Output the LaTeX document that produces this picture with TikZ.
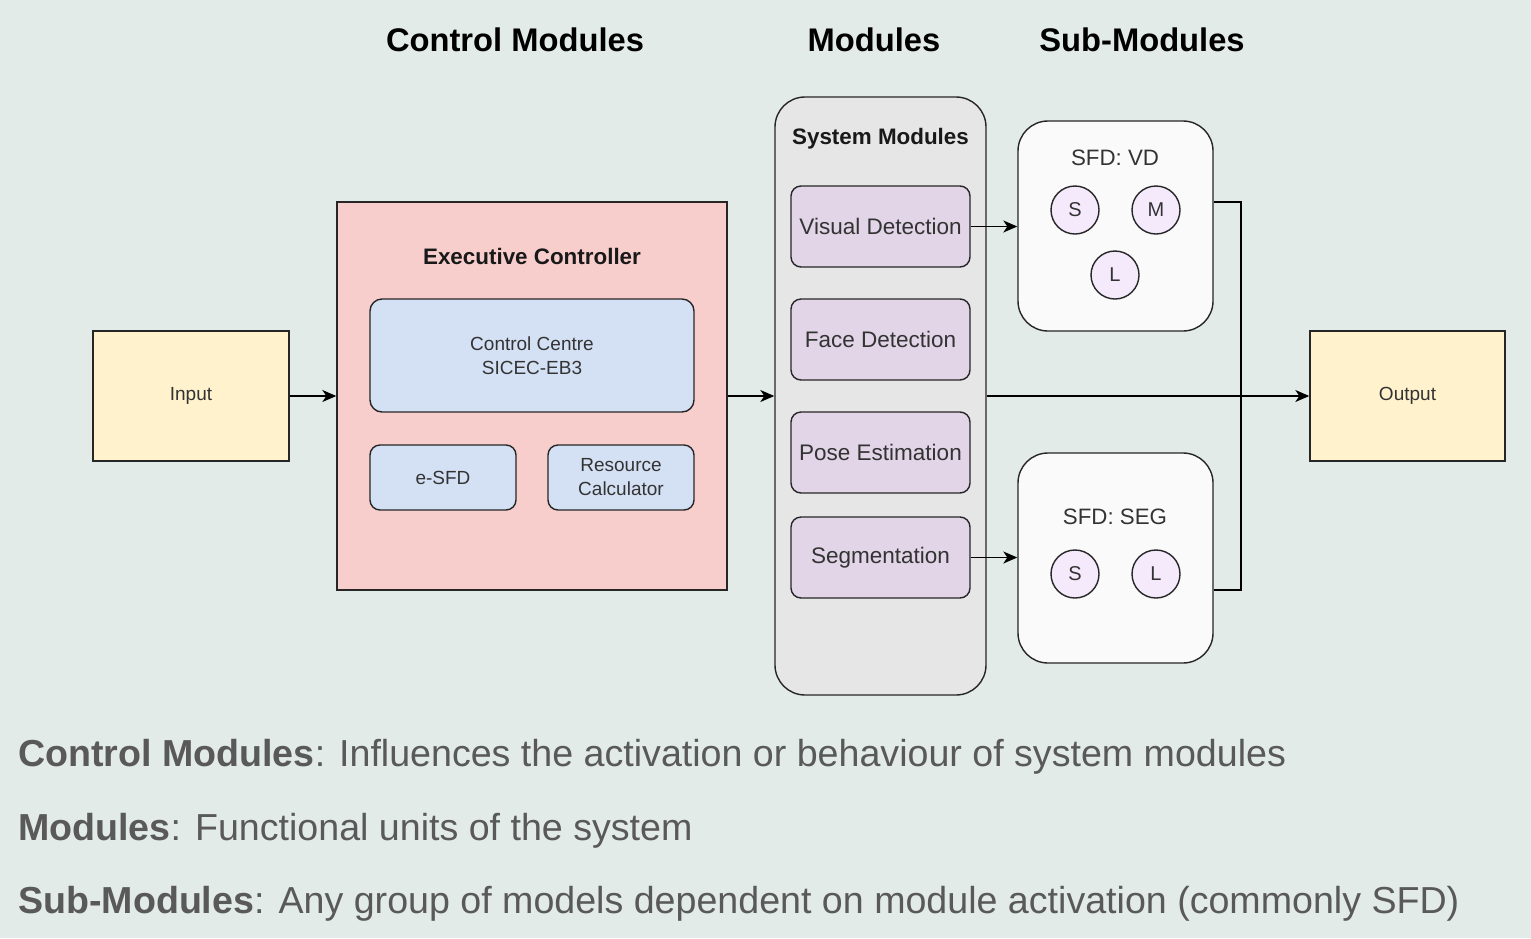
\documentclass[tikz,border=0pt]{standalone}
\usepackage{fontspec}
\setmainfont{Liberation Sans}
\usetikzlibrary{arrows.meta}
\definecolor{bg}{HTML}{E2EBE8}
\definecolor{inyel}{HTML}{FFF2CC}
\definecolor{expink}{HTML}{F8CECC}
\definecolor{ltblue}{HTML}{D4E1F5}
\definecolor{sysgray}{HTML}{E6E6E6}
\definecolor{modpur}{HTML}{E1D5E7}
\definecolor{sfdwhite}{HTML}{FAFAFA}
\definecolor{circpur}{HTML}{F5EAFC}
\definecolor{txtgray}{HTML}{333333}
\definecolor{legendgray}{HTML}{595959}
\definecolor{edge}{HTML}{262626}
\tikzset{
  box/.style={draw=edge, line width=1.4pt, inner sep=0pt, align=center, text=txtgray,
    font=\fontsize{19}{24}\selectfont},
  plainbox/.style={box, minimum width=196pt, minimum height=130pt, fill=inyel},
  bluebox/.style={box, fill=ltblue, rounded corners=12pt},
  modbox/.style={box, fill=modpur, rounded corners=10pt, minimum width=179pt, minimum height=81pt,
    font=\fontsize{22.5}{27}\selectfont},
  sfdbox/.style={box, fill=sfdwhite, rounded corners=30pt, minimum width=195pt, minimum height=210pt},
  sfdtitle/.style={text=txtgray, font=\fontsize{22.3}{27}\selectfont, inner sep=0pt},
  circ/.style={circle, draw=edge, line width=1.4pt, fill=circpur, minimum size=48pt, inner sep=0pt,
    text=txtgray, font=\fontsize{20}{24}\selectfont},
  boldtitle/.style={text=black!90, font=\fontsize{22.4}{27}\bfseries\selectfont, inner sep=0pt},
  header/.style={text=black, font=\fontsize{32.7}{38}\bfseries\selectfont, inner sep=0pt, anchor=base},
  legend/.style={text=legendgray, font=\fontsize{37.6}{44}\selectfont, inner sep=0pt, anchor=base west},
  conn/.style={draw=black, line width=1.5pt},
  arr/.style={conn, -{Stealth[length=14pt,width=12pt,inset=4pt]}}
}
\begin{document}
\begin{tikzpicture}[x=1pt,y=-1pt]
\useasboundingbox[fill=bg] (0,0) rectangle (1531,938);

% headers
\node[header] (h1) at (515,51) {Control Modules};
\node[header] (h2) at (874,51) {Modules};
\node[header] (h3) at (1142,51) {Sub-Modules};

% input / output
\node[plainbox] (input) at (191,396) {Input};
\node[plainbox, minimum width=195pt] (output) at (1407.5,396) {Output};

% executive controller
\node[box, fill=expink, minimum width=390pt, minimum height=388pt] (exec) at (532,396) {};
\node[boldtitle] (exectitle) at (532,256) {Executive Controller};
\node[bluebox, minimum width=324pt, minimum height=113pt] (cc) at (532,355.5) {Control Centre\\SICEC-EB3};
\node[bluebox, rounded corners=10pt, minimum width=146pt, minimum height=65pt] (esfd) at (443,477.5) {e-SFD};
\node[bluebox, rounded corners=10pt, minimum width=146pt, minimum height=65pt] (rc) at (621,477.5) {Resource\\Calculator};

% system modules
\node[box, fill=sysgray, rounded corners=30pt, minimum width=211pt, minimum height=598pt] (sysmod) at (880.5,396) {};
\node[boldtitle] (systitle) at (880.5,139) {System Modules};
\node[modbox] (vd) at (880.5,226.5) {Visual Detection};
\node[modbox] (fd) at (880.5,339.5) {Face Detection};
\node[modbox] (pe) at (880.5,452.5) {Pose Estimation};
\node[modbox] (seg) at (880.5,557.5) {Segmentation};

% sub-modules
\node[sfdbox] (sfdvd) at (1115.5,226) {};
\node[sfdtitle] (vdtitle) at (1115,158) {SFD: VD};
\node[circ] (vds) at (1075,210) {S};
\node[circ] (vdm) at (1156,210) {M};
\node[circ] (vdl) at (1115,275) {L};

\node[sfdbox] (sfdseg) at (1115.5,558) {};
\node[sfdtitle] (segtitle) at (1115,517) {SFD: SEG};
\node[circ] (segs) at (1075,574) {S};
\node[circ] (segl) at (1156,574) {L};

% connectors
\draw[arr] (input.east) -- (exec.west);
\draw[arr] (exec.east) -- (sysmod.west);
\draw[arr] (vd.east) -- (vd.east -| sfdvd.west);
\draw[arr] (seg.east) -- (seg.east -| sfdseg.west);
\draw[arr] (sysmod.east) -- (output.west);
\coordinate (bx) at (1241,396);
\draw[conn] ([yshift=24pt]sfdvd.east) -| (bx) |- ([yshift=-32pt]sfdseg.east);

% legend
\node[legend] (l1) at (18,766) {\textbf{Control Modules}: Influences the activation or behaviour of system modules};
\node[legend] (l2) at (18,840) {\textbf{Modules}: Functional units of the system};
\node[legend] (l3) at (18,913) {\textbf{Sub-Modules}: Any group of models dependent on module activation (commonly SFD)};
\end{tikzpicture}
\end{document}
